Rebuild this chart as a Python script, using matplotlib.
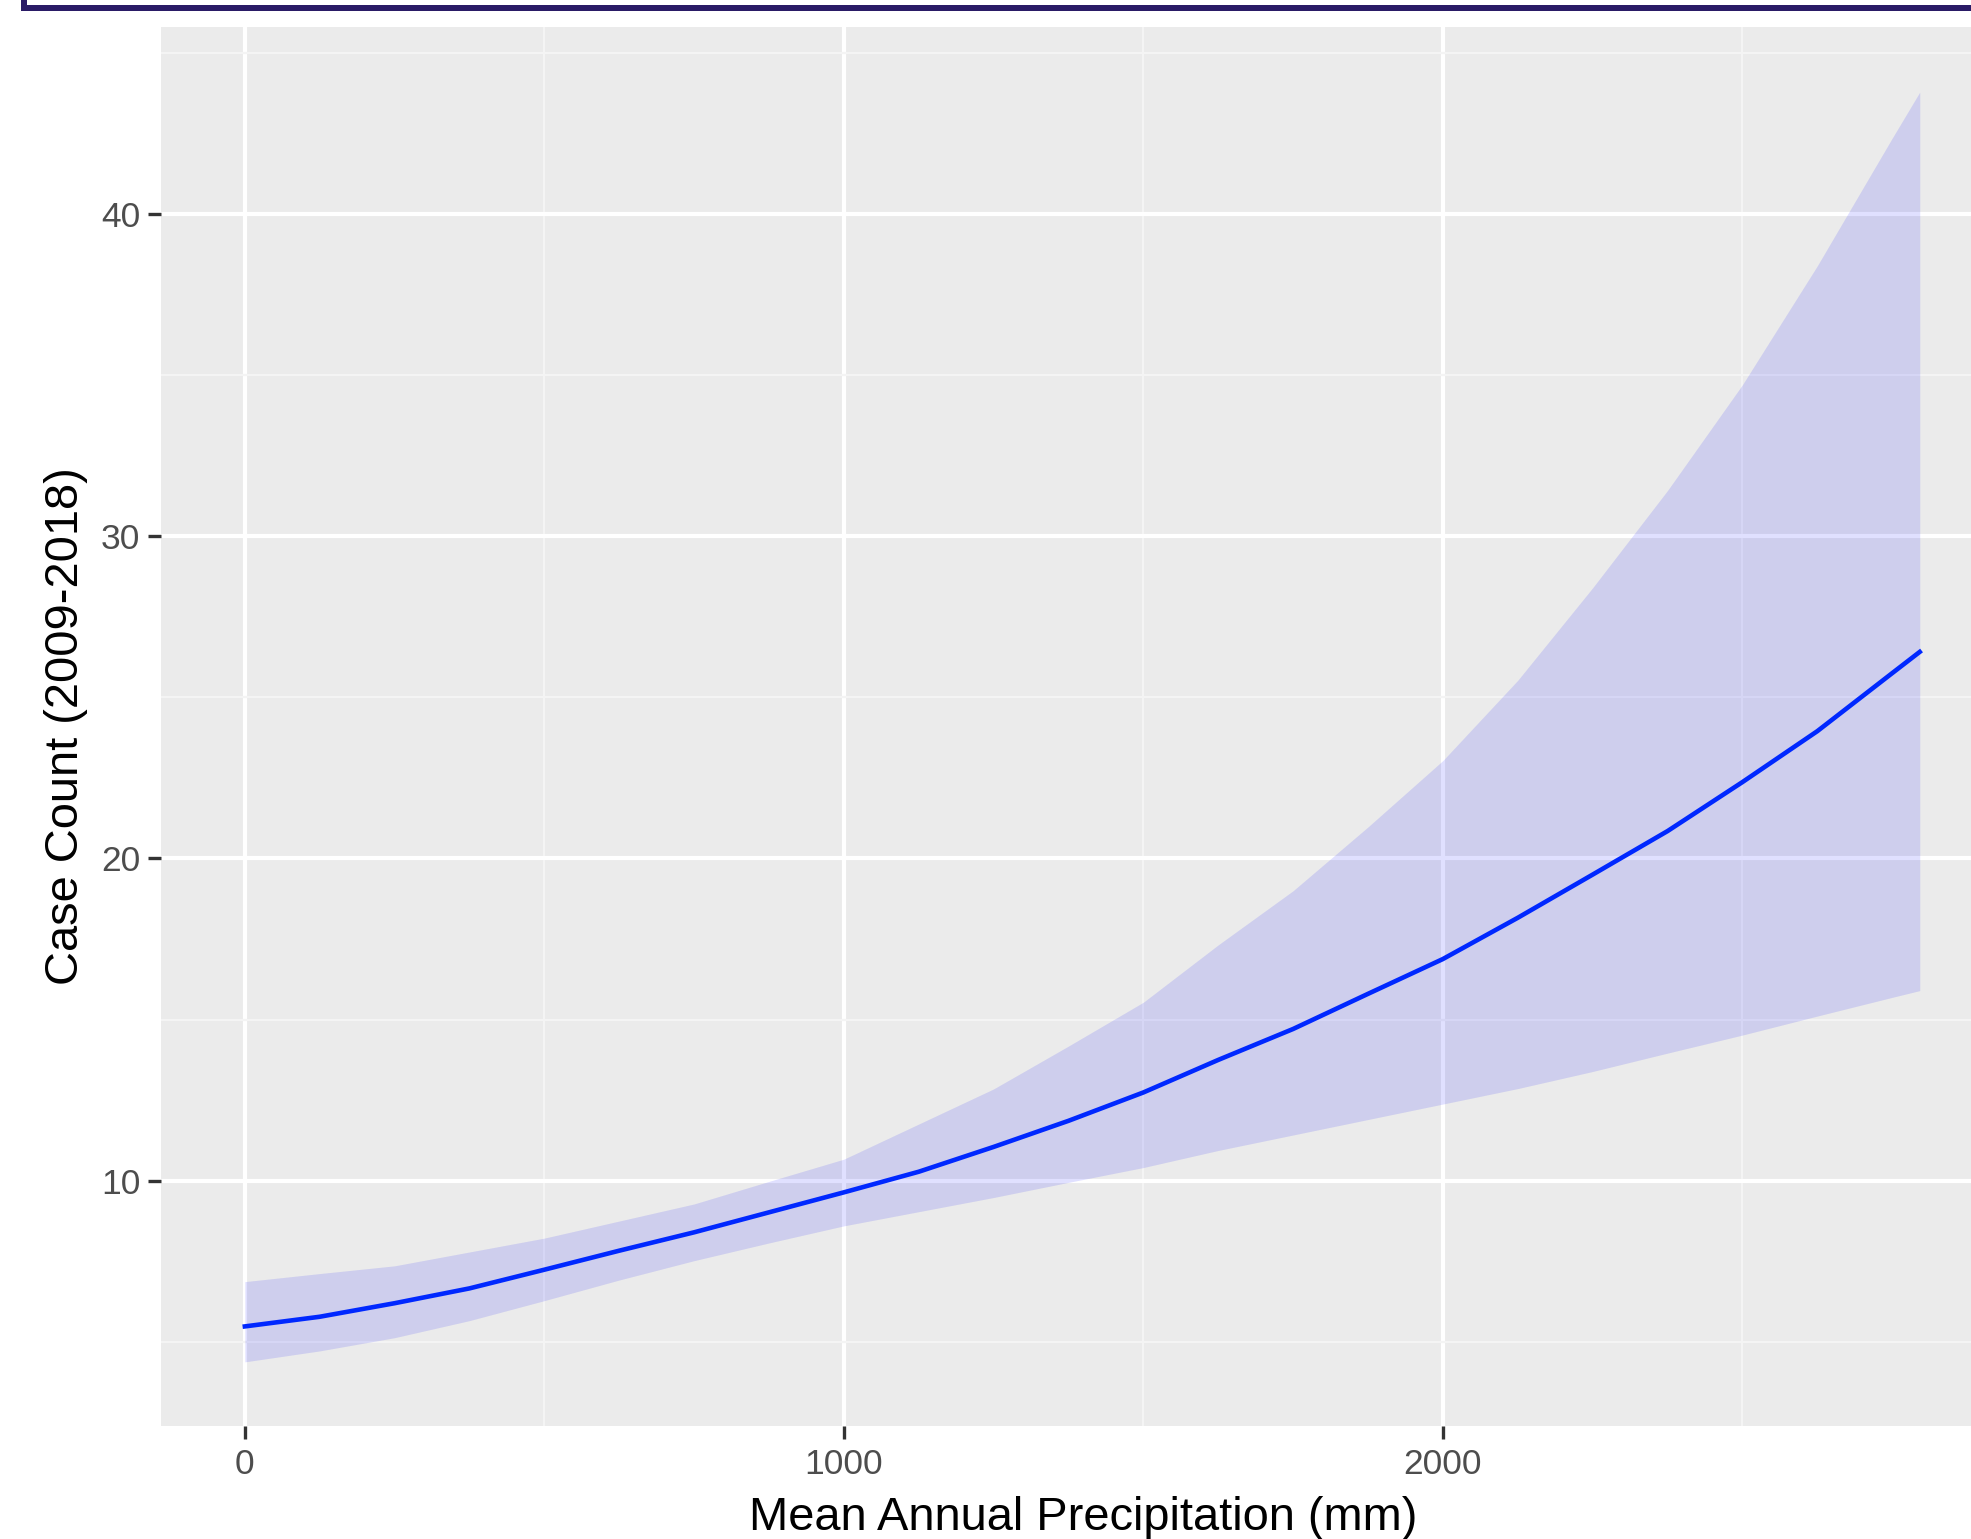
import matplotlib
matplotlib.use("Agg")
import matplotlib.pyplot as plt
from matplotlib.patches import Rectangle

plt.rcParams['font.family'] = ['Liberation Sans', 'DejaVu Sans']

# values
precip = [0, 125, 250, 375, 500, 625, 750, 875, 1000, 1125, 1250, 1375, 1500,
          1625, 1750, 1875, 2000, 2125, 2250, 2375, 2500, 2625, 2750, 2796]
fit = [5.48, 5.78, 6.20, 6.66, 7.24, 7.83, 8.40, 9.02, 9.64, 10.28, 11.05, 11.86, 12.74,
       13.75, 14.71, 15.80, 16.88, 18.16, 19.5, 20.85, 22.37, 23.95, 25.75, 26.41]
upper = [6.87, 7.12, 7.36, 7.79, 8.22, 8.75, 9.28, 9.98, 10.67, 11.76, 12.85, 14.18, 15.54,
         17.32, 19.0, 20.98, 23.04, 25.53, 28.4, 31.42, 34.7, 38.39, 42.35, 43.78]
lower = [4.38, 4.72, 5.13, 5.66, 6.28, 6.92, 7.52, 8.07, 8.60, 9.04, 9.48, 9.95, 10.41,
         10.94, 11.42, 11.90, 12.38, 12.86, 13.39, 13.96, 14.52, 15.11, 15.69, 15.90]

xticks = [0, 1000, 2000]
yticks = [10, 20, 30, 40]
xminor = [500, 1500, 2500]
yminor = [5, 15, 25, 35, 45]

W, H = 1971, 1539
fig = plt.figure(figsize=(W / 100, H / 100), dpi=100)
fig.patch.set_facecolor('white')

# panel runs past the right edge of the picture (cropped screenshot)
ax = fig.add_axes([161 / W, (H - 1426) / H, (2006 - 161) / W, (1426 - 27) / H])
ax.set_facecolor('#EBEBEB')
for s in ax.spines.values():
    s.set_visible(False)

ax.set_xlim(-140, 2940)
ax.set_ylim(2.39, 45.8)
ax.set_xticks(xticks)
ax.set_yticks(yticks)
ax.set_xticks(xminor, minor=True)
ax.set_yticks(yminor, minor=True)
ax.set_xticklabels([str(v) for v in xticks])
ax.set_yticklabels([str(v) for v in yticks])

ax.grid(which='major', color='white', linewidth=3.0)
ax.grid(which='minor', color='#F4F4F4', linewidth=1.6)
ax.set_axisbelow(True)

ax.tick_params(which='major', length=9.5, width=2.4, color='#333333',
               labelsize=25.5, labelcolor='#4D4D4D')
ax.tick_params(axis='y', pad=5.5)
ax.tick_params(axis='x', pad=6)
ax.tick_params(which='minor', length=0)

ax.fill_between(precip, lower, upper, color='#0000FF', alpha=0.12, linewidth=0, zorder=2)
ax.plot(precip, fit, color='#0028FF', linewidth=3.3, zorder=3)

ax.set_xlabel('Mean Annual Precipitation (mm)', fontsize=33.8, color='black')
ax.set_ylabel('Case Count (2009-2018)', fontsize=33.8, color='black')
ax.xaxis.set_label_coords(0.5, -(1496 - 1426) / 1399)
ax.yaxis.set_label_coords(-(161 - 88) / 1845, 0.5)

# bottom of the dark frame above the chart
navy = '#2A1B66'
fig.patches.append(Rectangle((21, H - 11), W - 21, 6, transform=None,
                             facecolor=navy, edgecolor='none'))
fig.patches.append(Rectangle((21, H - 11), 6, 11, transform=None,
                             facecolor=navy, edgecolor='none'))

fig.savefig('out.png', dpi=100)
